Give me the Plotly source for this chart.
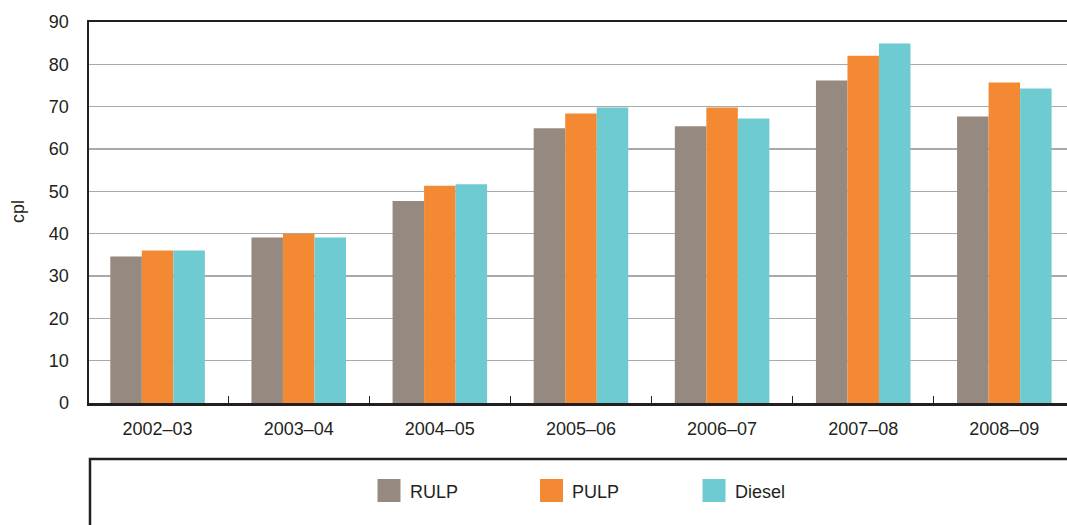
import plotly.graph_objects as go

# ---- data ----
years = ["2002–03", "2003–04", "2004–05", "2005–06", "2006–07", "2007–08", "2008–09"]
rulp = [34.6, 39.1, 47.7, 64.9, 65.4, 76.2, 67.7]
pulp = [36.0, 40.0, 51.3, 68.4, 69.8, 82.0, 75.7]
diesel = [36.0, 39.1, 51.7, 69.8, 67.2, 84.9, 74.3]
series_names = ["RULP", "PULP", "Diesel"]
y_ticks = [0, 10, 20, 30, 40, 50, 60, 70, 80, 90]

colors = ["#968a80", "#f38933", "#6ecbd1"]
dark = "#231f20"
FONT = "Liberation Sans, Arial, sans-serif"

W, H = 1067, 525
L, R, T, B = 89, 0, 22, 122
pw, ph = W - L - R, H - T - B

def px_x(x):
    return (x - L) / pw

def px_y(y):
    return (H - B - y) / ph

fig = go.Figure()
for name, vals, c in zip(series_names, [rulp, pulp, diesel], colors):
    fig.add_trace(go.Bar(x=years, y=vals, name=name, marker=dict(color=c, line=dict(width=0)),
                         showlegend=False))

shapes = []
annotations = []

# legend box
shapes.append(dict(type="rect", xref="paper", yref="paper",
                   x0=px_x(90), x1=px_x(1090), y0=px_y(560), y1=px_y(459),
                   line=dict(color=dark, width=2.5), fillcolor="rgba(0,0,0,0)"))
leg_x = [377.5, 540, 702.5]
for name, c, lx in zip(series_names, colors, leg_x):
    shapes.append(dict(type="rect", xref="paper", yref="paper",
                       x0=px_x(lx), x1=px_x(lx + 23), y0=px_y(502), y1=px_y(479),
                       line=dict(width=0), fillcolor=c))
    annotations.append(dict(text=name, xref="paper", yref="paper", x=px_x(lx + 30), y=px_y(491.5),
                            xanchor="left", yanchor="middle", showarrow=False,
                            font=dict(family=FONT, size=18, color=dark)))

# y-axis title
annotations.append(dict(text="cpl", xref="paper", yref="paper", x=px_x(18), y=px_y(212),
                        xanchor="center", yanchor="middle", textangle=-90, showarrow=False,
                        font=dict(family=FONT, size=18, color=dark)))

fig.update_layout(
    width=W, height=H,
    margin=dict(l=L, r=R, t=T, b=B, autoexpand=False),
    paper_bgcolor="white", plot_bgcolor="white",
    barmode="group", bargap=0.33, bargroupgap=0,
    font=dict(family=FONT, size=18, color=dark),
    shapes=shapes, annotations=annotations,
    xaxis=dict(
        range=[-0.486, 6.444], showgrid=False,
        showline=True, linecolor=dark, linewidth=2.5, mirror=True,
        ticks="inside", tickson="boundaries", ticklen=7, tickwidth=1.2, tickcolor=dark,
        tickfont=dict(family=FONT, size=18, color=dark), ticklabelstandoff=8,
        fixedrange=True,
    ),
    yaxis=dict(
        range=[0, 90], tickvals=y_ticks,
        showgrid=True, gridcolor="#a9a9a9", gridwidth=1.5,
        showline=True, linecolor=dark, linewidth=2.5,
        ticks="", tickfont=dict(family=FONT, size=18, color=dark), ticklabelstandoff=14,
        zeroline=False, fixedrange=True,
    ),
)

fig.write_html("out.html", config={"displayModeBar": False, "staticPlot": True},
               post_script="document.body.style.margin='0';document.body.style.overflow='hidden';")
